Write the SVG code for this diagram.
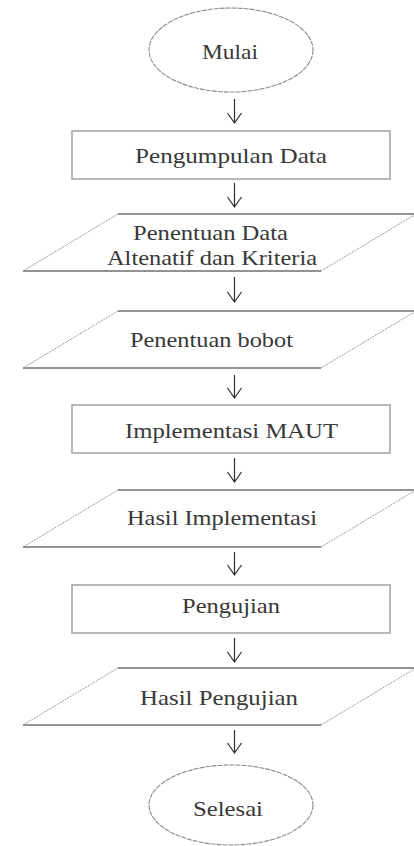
<svg xmlns="http://www.w3.org/2000/svg" width="414" height="846" viewBox="0 0 414 846">
<style>
.bg{fill:#fff}
.term{fill:#fff;stroke:#8a8a8a;stroke-width:1.1;stroke-dasharray:5 1}
.box{fill:#fff;stroke:#9a9a9a;stroke-width:1.4}
.para-h{stroke:#707070;stroke-width:1.4;fill:none}
.para-s{stroke:#9a9a9a;stroke-width:1;fill:none;stroke-dasharray:2 1}
.t{font-family:"Liberation Serif","Times New Roman",serif;font-size:22px;fill:#383838}
.arr{stroke:#2e2e2e;stroke-width:1.2;fill:none}
</style>
<rect class="bg" x="0" y="0" width="414" height="846"/>
<g id="connectors">
<path class="arr" d="M234.5 99 V123 M227.5 113 L234.5 123 L241.5 113"/>
<path class="arr" d="M234.5 183 V207 M227.5 197 L234.5 207 L241.5 197"/>
<path class="arr" d="M234.5 277 V302 M227.5 292 L234.5 302 L241.5 292"/>
<path class="arr" d="M234.5 375 V398 M227.5 388 L234.5 398 L241.5 388"/>
<path class="arr" d="M234.5 458 V482 M227.5 472 L234.5 482 L241.5 472"/>
<path class="arr" d="M234.5 552 V575 M227.5 565 L234.5 575 L241.5 565"/>
<path class="arr" d="M234.5 638 V662 M227.5 652 L234.5 662 L241.5 652"/>
<path class="arr" d="M234.5 730 V753 M227.5 743 L234.5 753 L241.5 743"/>
</g>
<g id="mulai">
<ellipse class="term" cx="231" cy="50" rx="82" ry="42"/>
<text class="t" x="202" y="59" textLength="56" lengthAdjust="spacingAndGlyphs">Mulai</text>
</g>
<g id="pengumpulan">
<rect class="box" x="72" y="131" width="318" height="48"/>
<text class="t" x="135" y="163" textLength="192" lengthAdjust="spacingAndGlyphs">Pengumpulan Data</text>
</g>
<g id="penentuan-data">
<path class="para-h" d="M118 214 H416 M23 271 H321"/>
<path class="para-s" d="M118 214 L23 271 M321 271 L416 214"/>
<text class="t" x="133" y="240" textLength="155" lengthAdjust="spacingAndGlyphs">Penentuan Data</text>
<text class="t" x="107" y="265" textLength="210" lengthAdjust="spacingAndGlyphs">Altenatif dan Kriteria</text>
</g>
<g id="penentuan-bobot">
<path class="para-h" d="M118 311 H416 M23 368 H321"/>
<path class="para-s" d="M118 311 L23 368 M321 368 L416 311"/>
<text class="t" x="130" y="347" textLength="163" lengthAdjust="spacingAndGlyphs">Penentuan bobot</text>
</g>
<g id="implementasi">
<rect class="box" x="72" y="405" width="318" height="48"/>
<text class="t" x="125" y="438" textLength="213" lengthAdjust="spacingAndGlyphs">Implementasi MAUT</text>
</g>
<g id="hasil-implementasi">
<path class="para-h" d="M118 490 H416 M23 547 H321"/>
<path class="para-s" d="M118 490 L23 547 M321 547 L416 490"/>
<text class="t" x="127" y="525" textLength="190" lengthAdjust="spacingAndGlyphs">Hasil Implementasi</text>
</g>
<g id="pengujian">
<rect class="box" x="72" y="585" width="318" height="48"/>
<text class="t" x="182" y="613" textLength="98" lengthAdjust="spacingAndGlyphs">Pengujian</text>
</g>
<g id="hasil-pengujian">
<path class="para-h" d="M118 668 H416 M23 725 H321"/>
<path class="para-s" d="M118 668 L23 725 M321 725 L416 668"/>
<text class="t" x="140" y="705" textLength="158" lengthAdjust="spacingAndGlyphs">Hasil Pengujian</text>
</g>
<g id="selesai">
<ellipse class="term" cx="231" cy="805" rx="82" ry="40"/>
<text class="t" x="193" y="816" textLength="70" lengthAdjust="spacingAndGlyphs">Selesai</text>
</g>
</svg>
